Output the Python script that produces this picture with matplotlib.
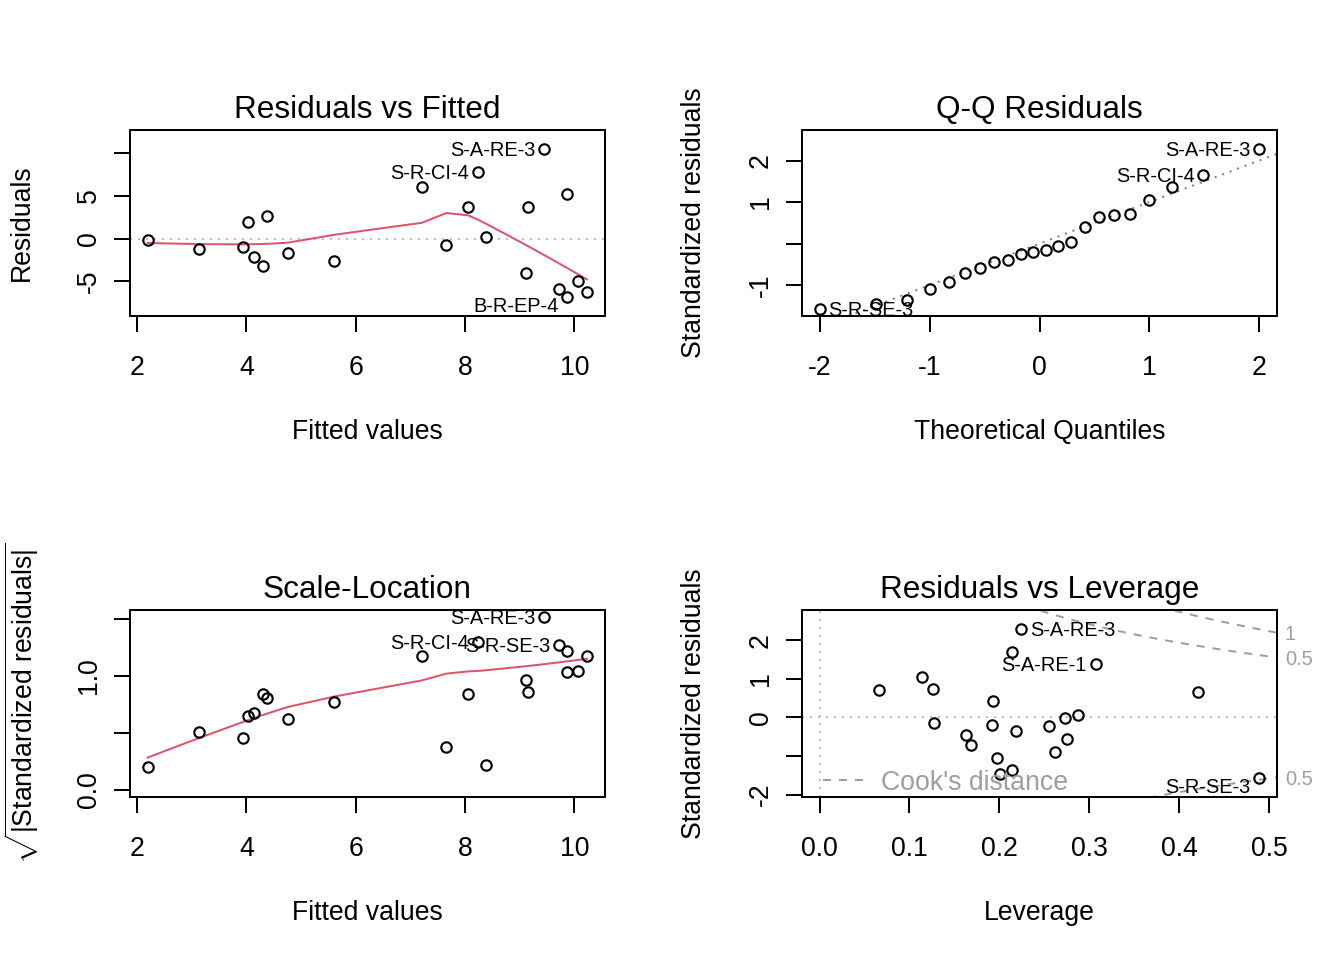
import numpy as np
import matplotlib
matplotlib.use('Agg')
import matplotlib.pyplot as plt

plt.rcParams['font.family'] = ['Liberation Sans', 'DejaVu Sans']
plt.rcParams['mathtext.fontset'] = 'custom'
plt.rcParams['mathtext.rm'] = 'Liberation Sans'
plt.rcParams['mathtext.it'] = 'Liberation Sans:italic'
plt.rcParams['mathtext.bf'] = 'Liberation Sans:bold'

# ---------------- data ----------------
fitted = [2.19, 3.125, 3.93, 4.02, 4.13, 4.31, 4.38, 4.76, 5.61, 7.21, 7.66,
          8.06, 8.23, 8.38, 9.12, 9.16, 9.44, 9.72, 9.87, 9.87, 10.07, 10.23]
residuals = [-0.12, -1.17, -0.93, 1.95, -2.10, -3.23, 2.60, -1.71, -2.57, 5.99, -0.70,
             3.66, 7.78, 0.23, -4.05, 3.66, 10.50, -5.91, -6.85, 5.25, -4.98, -6.26]
sqrt_abs_std = [0.198, 0.505, 0.453, 0.646, 0.675, 0.842, 0.807, 0.619, 0.768, 1.175, 0.377,
                0.839, 1.295, 0.216, 0.965, 0.856, 1.514, 1.272, 1.216, 1.032, 1.040, 1.175]
resid_ids = {16: 'S-A-RE-3', 12: 'S-R-CI-4', 18: 'B-R-EP-4'}
scale_ids = {16: 'S-A-RE-3', 12: 'S-R-CI-4', 17: 'S-R-SE-3'}

theor_q = [-2.000, -1.4895, -1.2074, -0.9982, -0.8255, -0.6745, -0.5375, -0.4100, -0.2888, -0.1718, -0.0570,
           0.0570, 0.1718, 0.2888, 0.4100, 0.5375, 0.6745, 0.8255, 0.9982, 1.2074, 1.4895, 2.000]
qq_std = [-1.576, -1.456, -1.360, -1.088, -0.928, -0.704, -0.584, -0.440, -0.392, -0.248, -0.200,
          -0.160, -0.056, 0.040, 0.400, 0.640, 0.688, 0.712, 1.040, 1.360, 1.660, 2.280]
qq_ids = {21: 'S-A-RE-3', 20: 'S-R-CI-4', 0: 'S-R-SE-3'}
q_quartiles = [-0.6745, 0.6745]

leverage = [0.066, 0.114, 0.126, 0.127, 0.163, 0.168, 0.192, 0.193, 0.197, 0.201, 0.2146,
            0.2146, 0.219, 0.2246, 0.2547, 0.2617, 0.2728, 0.2754, 0.2877, 0.307, 0.4206, 0.4893]
lev_std = [0.710, 1.057, 0.727, -0.138, -0.450, -0.710, -0.208, 0.416, -1.055, -1.455, -1.358,
           1.688, -0.364, 2.296, -0.234, -0.909, -0.017, -0.561, 0.062, 1.387, 0.650, -1.574]
lev_ids = {13: 'S-A-RE-3', 19: 'S-A-RE-1', 21: 'S-R-SE-3'}
n_params = 5
cook_levels = [0.5, 1.0]

# ---------------- style ----------------
LAB = 10.0
TITLE = 11.8
IDS = 7.5
LW = 0.75
RED = '#DF536B'
GRAY = '#BEBEBE'
GRAY50 = '#7F7F7F'
COOK = '#9E9E9E'
W, H = 1344, 960

fig = plt.figure(figsize=(7, 5), dpi=192)


def add_ax(l, r, t, b):
    return fig.add_axes([l / W, 1 - b / H, (r - l) / W, (b - t) / H])


def rlim(lo, hi):
    d = hi - lo
    return lo - 0.04 * d, hi + 0.04 * d


def extendrange(lo, hi, f):
    d = hi - lo
    return lo - f * d, hi + f * d


def style(ax, xt, xl, yt, yl, title, xlabel, ylabel, wpx, hpx):
    for s in ax.spines.values():
        s.set_linewidth(LW)
        s.set_color('black')
    ax.set_xticks(xt)
    ax.set_xticklabels(xl)
    ax.set_yticks(yt)
    ax.set_yticklabels(yl, rotation=90, va='center')
    ax.tick_params(axis='both', direction='out', length=6, width=LW, labelsize=LAB)
    ax.tick_params(axis='x', pad=8.6)
    ax.tick_params(axis='y', pad=4.5)
    ax.set_title(title, fontsize=TITLE, pad=4.5)
    ax.set_xlabel(xlabel, fontsize=LAB)
    ax.xaxis.label.set_va('center')
    ax.xaxis.set_label_coords(0.5, -116.0 / hpx)
    ax.set_ylabel(ylabel, fontsize=LAB)
    ax.yaxis.label.set_va('center')
    ax.yaxis.set_label_coords(-108.0 / wpx, 0.5)


def points(ax, x, y):
    ax.plot(x, y, linestyle='none', marker='o', ms=3.9, mfc='none', mec='black', mew=0.8, zorder=3)


def id_label(ax, x, y, text, center_x, shift_neg):
    right = x < center_x
    dx = 3.2 if right else -3.2
    dy = -2.7
    if shift_neg and y < 0:
        dy -= 3.0
    ax.annotate(text, xy=(x, y), xytext=(dx, dy), textcoords='offset points',
                ha='left' if right else 'right', va='baseline', fontsize=IDS,
                annotation_clip=False, zorder=4)


def lowest(x, y, n, xs, nleft, nright, w, userw, rw):
    rng = x[n - 1] - x[0]
    h = max(xs - x[nleft], x[nright] - xs)
    h9 = 0.999 * h
    h1 = 0.001 * h
    a = 0.0
    j = nleft
    while j < n:
        w[j] = 0.0
        r = abs(x[j] - xs)
        if r <= h9:
            if r <= h1:
                w[j] = 1.0
            else:
                w[j] = (1 - (r / h) ** 3) ** 3
            if userw:
                w[j] *= rw[j]
            a += w[j]
        elif x[j] > xs:
            break
        j += 1
    nrt = j - 1
    if a <= 0:
        return None
    for k in range(nleft, nrt + 1):
        w[k] /= a
    if h > 0:
        a = sum(w[k] * x[k] for k in range(nleft, nrt + 1))
        b = xs - a
        c = sum(w[k] * (x[k] - a) ** 2 for k in range(nleft, nrt + 1))
        if np.sqrt(c) > 0.001 * rng:
            b /= c
            for k in range(nleft, nrt + 1):
                w[k] *= (b * (x[k] - a) + 1.0)
    return sum(w[k] * y[k] for k in range(nleft, nrt + 1))


def lowess(x, y, f=2.0 / 3.0, iters=3):
    order = np.argsort(np.asarray(x, float), kind='stable')
    x = np.asarray(x, float)[order]
    y = np.asarray(y, float)[order]
    n = len(x)
    delta = 0.01 * (x[-1] - x[0])
    ns = max(2, min(n, int(f * n + 1e-7)))
    ys = np.zeros(n)
    rw = np.ones(n)
    w = np.zeros(n)
    it = 1
    while it <= iters + 1:
        nleft, nright, last, i = 0, ns - 1, -1, 0
        while True:
            if nright < n - 1:
                d1 = x[i] - x[nleft]
                d2 = x[nright + 1] - x[i]
                if d1 > d2:
                    nleft += 1
                    nright += 1
                    continue
            val = lowest(x, y, n, x[i], nleft, nright, w, it > 1, rw)
            ys[i] = y[i] if val is None else val
            if last < i - 1:
                denom = x[i] - x[last]
                for j in range(last + 1, i):
                    alpha = (x[j] - x[last]) / denom
                    ys[j] = alpha * ys[i] + (1 - alpha) * ys[last]
            last = i
            cut = x[last] + delta
            i = last + 1
            while i < n:
                if x[i] > cut:
                    break
                if x[i] == x[last]:
                    ys[i] = ys[last]
                    last = i
                i += 1
            i = max(last + 1, i - 1)
            if last >= n - 1:
                break
        res = y - ys
        if it > iters:
            break
        sc = np.mean(np.abs(res))
        srt = np.sort(np.abs(res))
        m1 = n // 2
        if n % 2 == 0:
            m2 = n - m1 - 1
            cmad = 3.0 * (srt[m1] + srt[m2])
        else:
            cmad = 6.0 * srt[m1]
        if cmad < 1e-7 * sc:
            break
        c9 = 0.999 * cmad
        c1 = 0.001 * cmad
        r = np.abs(res)
        rw = np.where(r <= c1, 1.0, np.where(r <= c9, (1 - (r / cmad) ** 2) ** 2, 0.0))
        it += 1
    return x, ys


fx = np.array(fitted)
rr = np.array(residuals)
fx_center = (fx.min() + fx.max()) / 2

# ---------------- 1: Residuals vs Fitted ----------------
ax1 = add_ax(130, 604.5, 130, 316)
ax1.set_xlim(*rlim(fx.min(), fx.max()))
ax1.set_ylim(*rlim(*extendrange(rr.min(), rr.max(), 0.08)))
ax1.axhline(0, color=GRAY, lw=LW, linestyle=(0, (1, 3)), zorder=1)
points(ax1, fx, rr)
lx, ly = lowess(fx, rr)
ax1.plot(lx, ly, color=RED, lw=LW, zorder=2)
for i, t in resid_ids.items():
    id_label(ax1, fx[i], rr[i], t, fx_center, True)
style(ax1, [2, 4, 6, 8, 10], ['2', '4', '6', '8', '10'],
      [-5, 0, 5, 10], ['-5', '0', '5', ''],
      'Residuals vs Fitted', 'Fitted values', 'Residuals', 474.5, 186)

# ---------------- 2: Q-Q Residuals ----------------
ax2 = add_ax(802, 1277, 130, 316)
tq = np.array(theor_q)
sq = np.array(qq_std)
ax2.set_xlim(*rlim(tq.min(), tq.max()))
ylo, yhi = sq.min(), sq.max()
yhi = yhi + 0.075 * (yhi - ylo)
ax2.set_ylim(*rlim(ylo, yhi))
points(ax2, tq, sq)
y_q = np.quantile(sq, [0.25, 0.75])
slope = (y_q[1] - y_q[0]) / (q_quartiles[1] - q_quartiles[0])
inter = y_q[0] - slope * q_quartiles[0]
ax2.axline((0, inter), slope=slope, color=GRAY50, lw=LW, linestyle=(0, (1, 3)), zorder=2)
tq_center = (tq.min() + tq.max()) / 2
for i, t in qq_ids.items():
    id_label(ax2, tq[i], sq[i], t, tq_center, False)
style(ax2, [-2, -1, 0, 1, 2], ['-2', '-1', '0', '1', '2'],
      [-1, 0, 1, 2], ['-1', '', '1', '2'],
      'Q-Q Residuals', 'Theoretical Quantiles', 'Standardized residuals', 475, 186)

# ---------------- 3: Scale-Location ----------------
ax3 = add_ax(130, 604.5, 610, 797)
sl = np.array(sqrt_abs_std)
ax3.set_xlim(*rlim(fx.min(), fx.max()))
ax3.set_ylim(*rlim(0, sl.max()))
points(ax3, fx, sl)
lx, ly = lowess(fx, sl)
ax3.plot(lx, ly, color=RED, lw=LW, zorder=2)
for i, t in scale_ids.items():
    id_label(ax3, fx[i], sl[i], t, fx_center, False)
style(ax3, [2, 4, 6, 8, 10], ['2', '4', '6', '8', '10'],
      [0.0, 0.5, 1.0, 1.5], ['0.0', '', '1.0', ''],
      'Scale-Location', 'Fitted values',
      r'$\sqrt{|\mathrm{Standardized\ residuals}|}$', 474.5, 187)

# ---------------- 4: Residuals vs Leverage ----------------
ax4 = add_ax(802, 1277, 610, 797)
lv = np.array(leverage)
ls_ = np.array(lev_std)
x_lo, x_hi = rlim(0, lv.max())
ax4.set_xlim(x_lo, x_hi)
y_lo4, y_hi4 = rlim(*extendrange(ls_.min(), ls_.max(), 0.08))
ax4.set_ylim(y_lo4, y_hi4)
ax4.axhline(0, color=GRAY, lw=LW, linestyle=(0, (1, 3)), zorder=1)
ax4.axvline(0, color=GRAY, lw=LW, linestyle=(0, (1, 3)), zorder=1)
points(ax4, lv, ls_)
hh = np.linspace(min(lv.min(), lv.max() / 100), x_hi, 101)
xmax = min(0.99, x_hi)
for lev in cook_levels:
    cl = np.sqrt(lev * n_params * (1 - hh) / hh)
    ax4.plot(hh, cl, color=COOK, lw=LW, linestyle=(0, (4, 4)), zorder=2)
    ax4.plot(hh, -cl, color=COOK, lw=LW, linestyle=(0, (4, 4)), zorder=2)
    aty = np.sqrt(lev) * np.sqrt(n_params * (1 - xmax) / xmax)
    for yy in (aty, -aty):
        if y_lo4 <= yy <= y_hi4:
            ax4.annotate('%g' % lev, xy=(1, yy), xycoords=('axes fraction', 'data'),
                         xytext=(3.0, -2.7), textcoords='offset points', ha='left', va='baseline',
                         fontsize=IDS, color=COOK, annotation_clip=False)
lv_center = (lv.min() + lv.max()) / 2
for i, t in lev_ids.items():
    id_label(ax4, lv[i], ls_[i], t, lv_center, True)
# Cook's distance legend (bottom left)
ax4.plot([21 / 475, 63 / 475], [17 / 187, 17 / 187], transform=ax4.transAxes,
         color=COOK, lw=LW, linestyle=(0, (4, 4)), clip_on=False)
ax4.text(79 / 475, 14 / 187, "Cook's distance", transform=ax4.transAxes, color=COOK,
         fontsize=LAB, ha='left', va='center')
style(ax4, [0.0, 0.1, 0.2, 0.3, 0.4, 0.5], ['0.0', '0.1', '0.2', '0.3', '0.4', '0.5'],
      [-2, -1, 0, 1, 2], ['-2', '', '0', '1', '2'],
      'Residuals vs Leverage', 'Leverage', 'Standardized residuals', 475, 187)

fig.savefig('out.png', dpi=192, facecolor='white')
